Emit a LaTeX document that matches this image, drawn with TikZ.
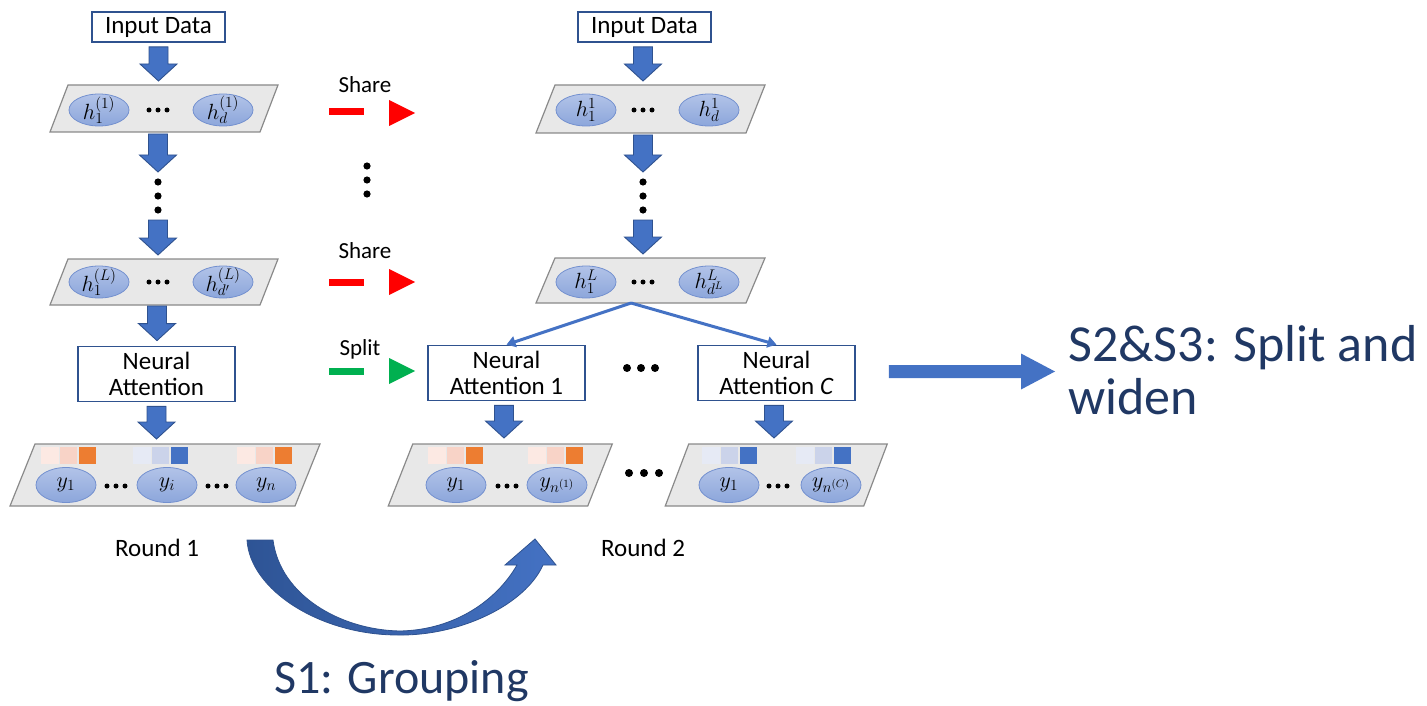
\RequirePackage{fix-cm}
\documentclass[tikz,border=0pt]{standalone}
\usepackage{fontspec}
\setmainfont{Carlito}
\usetikzlibrary{shapes.geometric,arrows.meta,calc}

\definecolor{arrowblue}{HTML}{4472C4}
\definecolor{arrowedge}{HTML}{2F528F}
\definecolor{boxblue}{HTML}{2F528F}
\definecolor{platefill}{HTML}{E8E8E8}
\definecolor{plateedge}{HTML}{8A8A8A}
\definecolor{ellTop}{HTML}{B2C3E8}
\definecolor{ellBot}{HTML}{8CA6DB}
\definecolor{ellEdge}{HTML}{7390CF}
\definecolor{navy}{HTML}{203864}
\definecolor{curveDark}{HTML}{2E5495}
\definecolor{orA}{HTML}{FCE9E3}
\definecolor{orB}{HTML}{F8D3C7}
\definecolor{orC}{HTML}{ED7D31}
\definecolor{blA}{HTML}{E6EAF5}
\definecolor{blB}{HTML}{CBD3EA}
\definecolor{blC}{HTML}{4472C4}
\definecolor{shareRed}{HTML}{FF0000}
\definecolor{splitGreen}{HTML}{00B050}

\tikzset{
  plate/.style={fill=platefill, draw=plateedge, line width=1.2pt},
  databox/.style={draw=boxblue, line width=1.8pt, fill=white, inner sep=0pt,
    minimum width=133pt, minimum height=30pt, font=\fontsize{25}{26}\selectfont},
  attbox/.style={draw=boxblue, line width=1.8pt, fill=white, inner sep=0pt,
    minimum width=157pt, minimum height=55pt, align=center,
    font=\fontsize{25}{26}\selectfont},
  cell/.style={ellipse, draw=ellEdge, line width=0.8pt, top color=ellTop,
    bottom color=ellBot, inner sep=-3pt, font=\fontsize{22}{24}\selectfont},
  hnode/.style={cell, minimum width=60pt, minimum height=32pt},
  ynode/.style={cell, minimum width=60pt, minimum height=35pt},
  blockarrow/.style={fill=arrowblue, draw=arrowedge, line width=0.9pt},
  thinarrow/.style={draw=arrowblue, line width=3pt, -{Triangle[length=9pt,width=11pt]}},
  lbl/.style={font=\fontsize{25}{26}\selectfont},
  smalllbl/.style={font=\fontsize{23}{24}\selectfont},
  biglbl/.style={font=\fontsize{48}{55}\selectfont, text=navy, inner sep=0pt},
  hugelbl/.style={font=\fontsize{52}{53}\selectfont, text=navy, inner sep=0pt}
}

% plate (parallelogram) named #1 centred at (#2,#3), width #4, height #5, half slant #6
\newcommand\platebox[6]{%
  \node[minimum width=#4pt, minimum height=#5pt, inner sep=0pt, outer sep=0pt] (#1) at (#2,#3) {};
  \filldraw[plate] ([xshift=-#6pt]#1.south west) -- ([xshift=-#6pt]#1.south east)
    -- ([xshift=#6pt]#1.north east) -- ([xshift=#6pt]#1.north west) -- cycle;}

% downward block arrow from #1 to the tip #2 (x taken from #1)
\newcommand\blockdown[2]{%
  \filldraw[blockarrow] let \p1=(#1), \p2=(#2) in
    (\x1-9.5pt,\y1) -- (\x1+9.5pt,\y1) -- (\x1+9.5pt,\y2+17pt) -- (\x1+18.5pt,\y2+17pt)
    -- (\x1,\y2) -- (\x1-18.5pt,\y2+17pt) -- (\x1-9.5pt,\y2+17pt) -- cycle;}

% row of three dots: centre x, y, spacing, radius
\newcommand\dotrow[4]{\foreach \k in {-1,0,1} \fill (#1+\k*#3,#2) circle (#4pt);}
% column of three dots: x, centre y, spacing, radius
\newcommand\dotcol[4]{\foreach \k in {-1,0,1} \fill (#1,#2+\k*#3) circle (#4pt);}

% three heat squares: left x, top y, colours
\newcommand\heatrow[5]{%
  \fill[#3] (#1,#2) rectangle ++(17.5,17);
  \fill[#4] (#1+18.75,#2) rectangle ++(17.5,17);
  \fill[#5] (#1+37.5,#2) rectangle ++(17.5,17);}

\begin{document}
\begin{tikzpicture}[x=1pt,y=-1pt]
\useasboundingbox (0,0) rectangle (1427,706);

% ---------------- Round 1 column ----------------
\node[databox] (in1) at (158.5,27) {Input Data};
\platebox{p1}{164}{108.5}{210}{47}{9}
\node[hnode] (a11) at (99,110) {$h_1^{(1)}$};
\node[hnode] (a1d) at (223,110) {$h_d^{(1)}$};
\dotrow{158}{110}{9}{2.5}

\coordinate (ld1) at (158,172);
\coordinate (ld2) at (158,220);
\dotcol{158}{196}{14}{3.6}

\platebox{p2}{164}{282}{210}{46}{9}
\node[hnode] (aL1) at (99,282) {$h_1^{(L)}$};
\node[hnode] (aLd) at (223,282) {$h_{d'}^{(L)}$};
\dotrow{158}{282}{9}{2.5}

\node[attbox] (na0) at (156.5,374) {Neural\\Attention};

\platebox{p3}{165}{475}{285}{62}{12.5}
\heatrow{41}{447}{orA}{orB}{orC}
\heatrow{133}{447}{blA}{blB}{blC}
\heatrow{237}{447}{orA}{orB}{orC}
\node[ynode] (y01) at (66,485) {$y_1$};
\node[ynode] (y0i) at (167,485) {$y_i$};
\node[ynode] (y0n) at (266,485) {$y_n$};
\dotrow{116}{486}{9}{2.5}
\dotrow{217}{486}{9}{2.5}

\blockdown{[yshift=-4pt]in1.south}{[yshift=4pt]p1.north}
\blockdown{[xshift=-6pt,yshift=-2pt]p1.south}{ld1}
\blockdown{ld2}{[yshift=4pt]p2.north}
\blockdown{[xshift=-7pt,yshift=-1pt]p2.south}{[yshift=5pt]na0.north}
\blockdown{[yshift=-4pt]na0.south}{[yshift=5pt]p3.north}

\node[lbl, anchor=base] (r1) at (157,556) {Round 1};

% ---------------- Round 2 column ----------------
\node[databox] (in2) at (644.5,27) {Input Data};
\platebox{q1}{650.5}{109}{210}{48}{9.5}
\node[hnode] (b11) at (586,110) {$h_1^{1}$};
\node[hnode] (b1d) at (709,110) {$h_d^{1}$};
\dotrow{643}{110}{9}{2.5}

\coordinate (rd1) at (643,172);
\coordinate (rd2) at (643,220);
\dotcol{643}{196}{14}{3.6}

\platebox{q2}{650.5}{280.5}{210}{45}{9.5}
\node[hnode] (bL1) at (586,282) {$h_1^{L}$};
\node[hnode] (bLd) at (709,282) {$h_{d^L}^{L}$};
\dotrow{643}{282}{9}{2.5}

\node[attbox] (na1) at (506.5,373) {Neural\\Attention 1};
\node[attbox] (naC) at (776.5,373) {Neural\\Attention \textit{C}};
\dotrow{641}{368}{14}{4}

\coordinate (fork) at (631,303);
\draw[thinarrow] (fork) -- (na1.north);
\draw[thinarrow] (fork) -- (naC.north);

\platebox{q3}{500.25}{475}{199.5}{62}{12.25}
\heatrow{428}{447}{orA}{orB}{orC}
\heatrow{528}{447}{orA}{orB}{orC}
\node[ynode] (y11) at (456,485) {$y_1$};
\node[ynode] (y1n) at (557,485) {$y_{n^{(1)}}$};
\dotrow{507}{486}{9}{2.5}

\platebox{q4}{776.25}{475}{198.5}{62}{11.75}
\heatrow{702}{447}{blA}{blB}{blC}
\heatrow{796}{447}{blA}{blB}{blC}
\node[ynode] (yC1) at (729,485) {$y_1$};
\node[ynode] (yCn) at (831,485) {$y_{n^{(C)}}$};
\dotrow{778}{486}{9}{2.5}

\dotrow{644}{473}{15}{4}

\blockdown{[xshift=-1.5pt,yshift=-4pt]in2.south}{[yshift=4pt]q1.north}
\blockdown{[xshift=-7.5pt,yshift=-2pt]q1.south}{rd1}
\blockdown{rd2}{[yshift=4pt]q2.north}
\blockdown{[xshift=-2.5pt,yshift=-4pt]na1.south}{[yshift=6pt]q3.north}
\blockdown{[xshift=-2.5pt,yshift=-4pt]naC.south}{[yshift=6pt]q4.north}

\node[lbl, anchor=base] (r2) at (643,556) {Round 2};

% ---------------- share / split markers ----------------
\node[smalllbl, anchor=base] (sh1) at (365,93) {Share};
\fill[shareRed] (329,108.5) rectangle (364,115.5);
\fill[shareRed] (389,100) -- (415,113) -- (389,126) -- cycle;

\dotcol{367}{180}{14}{3.6}

\node[smalllbl, anchor=base] (sh2) at (365,258) {Share};
\fill[shareRed] (329,278.5) rectangle (364,285.5);
\fill[shareRed] (389,269) -- (415,282) -- (389,295) -- cycle;

\node[smalllbl, anchor=base] (spl) at (360,355) {Split};
\fill[splitGreen] (329,368) rectangle (364,375);
\fill[splitGreen] (389,358) -- (415,371) -- (389,384) -- cycle;

% ---------------- S2&S3 arrow and caption ----------------
\coordinate (sa0) at ([xshift=33pt]naC.east);
\coordinate (sa1) at (1055,371.5);
\fill[arrowblue] let \p1=(sa0), \p2=(sa1) in
  (\x1,\y2+6.5pt) -- (\x2-34pt,\y2+6.5pt) -- (\x2-34pt,\y2+18pt) -- (\x2,\y2)
  -- (\x2-34pt,\y2-18pt) -- (\x2-34pt,\y2-6.5pt) -- (\x1,\y2-6.5pt) -- cycle;
\node[hugelbl, anchor=base west, align=left] (s23) at (1068,414) {S2\&S3: Split and\\widen};

% ---------------- S1 curved arrow and caption ----------------
\shadedraw[left color=curveDark, right color=arrowblue, draw=arrowedge, line width=0.8pt]
  (247,540) .. controls (250,590) and (320,635) .. (398,635)
  .. controls (460,636) and (525,605) .. (543,565)
  -- (556,565) -- (535,539) -- (505,565) -- (517,565)
  .. controls (497,600) and (455,630) .. (400,631)
  .. controls (340,630) and (280,595) .. (273,540) -- cycle;
\node[biglbl, anchor=base] (s1) at (401.5,693) {S1: Grouping};

\end{tikzpicture}
\end{document}
